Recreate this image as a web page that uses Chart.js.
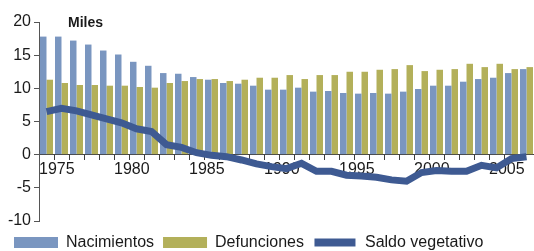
<!DOCTYPE html>
<html>
<head>
<meta charset="utf-8">
<script src="https://cdn.jsdelivr.net/npm/chart.js@4"></script>
<style>
  html, body { margin: 0; padding: 0; background: #fff; }
  #wrap { width: 534px; height: 251px; position: relative; }
</style>
</head>
<body>
<div id="wrap"><canvas id="chart"></canvas></div>
<script>
const years = ["1975", "1976", "1977", "1978", "1979", "1980", "1981", "1982", "1983", "1984",
	"1985", "1986", "1987", "1988", "1989", "1990", "1991", "1992", "1993", "1994",
	"1995", "1996", "1997", "1998", "1999", "2000", "2001", "2002", "2003", "2004",
	"2005", "2006", "2007"];

const nacimientos = [17.8, 17.8, 17.2, 16.6, 15.7, 15.1, 14.0, 13.4, 12.3, 12.2,
	11.7, 11.3, 10.8, 10.7, 10.4, 9.8, 9.8, 10.1, 9.5, 9.6,
	9.3, 9.2, 9.3, 9.2, 9.5, 9.9, 10.4, 10.4, 11.0, 11.4,
	11.6, 12.3, 12.9];

const defunciones = [11.3, 10.8, 10.5, 10.5, 10.4, 10.4, 10.2, 10.1, 10.8, 11.1,
	11.4, 11.4, 11.1, 11.3, 11.6, 11.6, 12.0, 11.4, 12.0, 12.0,
	12.5, 12.5, 12.8, 12.9, 13.5, 12.6, 12.8, 12.9, 13.7, 13.2,
	13.7, 12.9, 13.2];

const saldo = [6.5, 7.0, 6.6, 6.0, 5.4, 4.8, 3.9, 3.5, 1.5, 1.1,
	0.3, -0.1, -0.3, -0.8, -1.4, -1.8, -2.1, -1.3, -2.5, -2.5,
	-3.1, -3.2, -3.4, -3.8, -4.0, -2.7, -2.4, -2.5, -2.5, -1.6,
	-2.0, -0.6, -0.3];

const BLUE = "#7A96C0";
const OLIVE = "#B3B05A";
const LINE = "#3E5A92";
const FONT = "'Liberation Sans', Arial, sans-serif";

// "Miles" unit label above the bars
const unitLabel = {
	id: "unitLabel",
	afterLayout(chart) {
		chart.legend.top += 4.5;
		chart.legend.bottom += 4.5;
	},
	afterDraw(chart) {
		const ctx = chart.ctx;
		ctx.save();
		ctx.font = "bold 14px " + FONT;
		ctx.fillStyle = "#1a1a1a";
		ctx.textBaseline = "alphabetic";
		ctx.fillText("Miles", chart.chartArea.left + 29, chart.chartArea.top + 5);
		ctx.restore();
	},
};

const ctx = document.getElementById("chart").getContext("2d");
new Chart(ctx, {
	data: {
		labels: years,
		datasets: [
			{
				type: "bar",
				label: "Nacimientos",
				data: nacimientos,
				backgroundColor: BLUE,
				categoryPercentage: 0.87,
				barPercentage: 1,
				order: 1,
			},
			{
				type: "bar",
				label: "Defunciones",
				data: defunciones,
				backgroundColor: OLIVE,
				categoryPercentage: 0.87,
				barPercentage: 1,
				order: 1,
			},
			{
				type: "line",
				label: "Saldo vegetativo",
				data: saldo,
				borderColor: LINE,
				backgroundColor: LINE,
				borderWidth: 7,
				pointRadius: 0,
				tension: 0,
				order: 0,
			},
		],
	},
	options: {
		responsive: true,
		maintainAspectRatio: false,
		animation: false,
		layout: { padding: { left: 5, right: 0, top: 22, bottom: -5 } },
		plugins: {
			legend: {
				position: "bottom",
				align: "start",
				labels: {
					boxWidth: 44,
					boxHeight: 11,
					padding: 9,
					color: "#1a1a1a",
					font: { family: FONT, size: 16 },
					sort: (a, b) => a.datasetIndex - b.datasetIndex,
					generateLabels(chart) {
						const items = Chart.defaults.plugins.legend.labels.generateLabels(chart);
						items.forEach(item => {
							if (item.datasetIndex === 2) {
								item.fillStyle = LINE;
								item.strokeStyle = "#ffffff";
								item.lineWidth = 3;
							} else {
								item.lineWidth = 0;
							}
						});
						return items;
					},
				},
			},
			tooltip: { enabled: false },
		},
		scales: {
			x: {
				type: "category",
				position: { y: 0 },
				offset: true,
				z: 1,
				grid: {
					offset: true,
					drawOnChartArea: false,
					drawTicks: true,
					tickLength: 5,
					color: "#404040",
				},
				border: { display: true, color: "#404040", width: 1 },
				ticks: {
					autoSkip: false,
					maxRotation: 0,
					align: "start",
					labelOffset: -7.5,
					padding: 0,
					color: "#1a1a1a",
					font: { family: FONT, size: 16 },
					callback: (value, index) => (index % 5 === 0 ? years[index] : ""),
				},
			},
			y: {
				type: "linear",
				min: -10,
				max: 20,
				afterFit: scale => { scale.width = 34; },
				grid: {
					drawOnChartArea: false,
					drawTicks: true,
					tickLength: 5,
					color: "#555555",
				},
				border: { display: true, color: "#555555", width: 1 },
				ticks: {
					stepSize: 5,
					padding: 3,
					color: "#1a1a1a",
					font: { family: FONT, size: 16 },
				},
			},
		},
	},
	plugins: [unitLabel],
});
</script>
</body>
</html>
